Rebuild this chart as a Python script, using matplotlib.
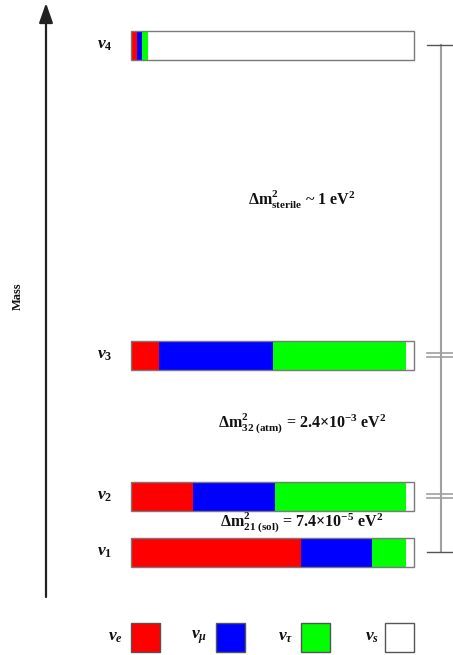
import matplotlib
matplotlib.use('Agg')
import matplotlib.pyplot as plt
import numpy as np

plt.rcParams['mathtext.fontset'] = 'custom'
plt.rcParams['mathtext.rm'] = 'Liberation Serif:bold'
plt.rcParams['mathtext.it'] = 'Liberation Serif:bold:italic'
plt.rcParams['mathtext.bf'] = 'Liberation Serif:bold'
plt.rcParams['font.family'] = ['Liberation Serif', 'DejaVu Serif']
plt.rcParams['font.weight'] = 'bold'

# ---- data ----
states = [r'$\nu_1$', r'$\nu_2$', r'$\nu_3$', r'$\nu_4$']
flavors = [r'$\nu_e$', r'$\nu_\mu$', r'$\nu_\tau$', r'$\nu_s$']
flavor_colors = ['#ff0000', '#0000ff', '#00ff00', '#ffffff']
frac_e = [0.60, 0.22, 0.10, 0.02]
frac_mu = [0.25, 0.29, 0.40, 0.02]
frac_tau = [0.12, 0.46, 0.47, 0.02]
frac_s = [0.03, 0.03, 0.03, 0.94]
splitting_labels = [
    r'$\Delta\mathrm{m}^2_{21\ \mathrm{(sol)}}$ = 7.4×10$^{-5}$ eV$^2$',
    r'$\Delta\mathrm{m}^2_{32\ \mathrm{(atm)}}$ = 2.4×10$^{-3}$ eV$^2$',
    r'$\Delta\mathrm{m}^2_{\mathrm{sterile}}$ ~ 1 eV$^2$',
]
axis_label = 'Mass'

# ---- layout (pixel based) ----
W, H = 453, 655
BAR_L, BAR_W = 131, 283
def px(x):
    return (x - BAR_L) / BAR_W

bar_y = [552, 496, 355, 45]
bar_h = 29
split_y = [522, 423, 200]

fig = plt.figure(figsize=(W / 100, H / 100), dpi=100)
ax = fig.add_axes([0, 0, 1, 1])
ax.set_xlim(px(0), px(W))
ax.set_ylim(H, 0)
ax.axis('off')

fracs = np.array([frac_e, frac_mu, frac_tau, frac_s])
left = np.zeros(len(states))
for k in range(4):
    ax.barh(bar_y, fracs[k], left=left, height=bar_h, color=flavor_colors[k],
            edgecolor='none', linewidth=0, zorder=2)
    left = left + fracs[k]
ax.barh(bar_y, left, height=bar_h, color='none', edgecolor='#7a7a7a',
        linewidth=1.0, zorder=3)

for lab, y in zip(states, bar_y):
    ax.text(px(105), y, lab, ha='center', va='center', fontsize=12.5, color='#111111')

for lab, y in zip(splitting_labels, split_y):
    ax.text(px(302), y, lab, ha='center', va='center', fontsize=11.5,
            fontweight='bold', color='#111111')

# right bracket
gray = '#a0a0a0'
ax.plot([px(441), px(441)], [bar_y[3], bar_y[0]], color=gray, lw=1.5, zorder=1)
for i, y in enumerate(bar_y):
    if i in (1, 2):
        for dy in (-1.6, 1.6):
            ax.plot([px(427), px(453)], [y + dy, y + dy], color=gray, lw=1.2)
    else:
        ax.plot([px(427), px(453)], [y, y], color='#555555', lw=1.0)

# mass arrow
ax.annotate('', xy=(px(46), 3), xytext=(px(46), 597),
            arrowprops=dict(arrowstyle='-|>,head_length=1.2,head_width=0.42',
                            color='#222222', lw=1.6, shrinkA=0, shrinkB=0))
ax.text(px(18), 296, axis_label, rotation=90, ha='center', va='center',
        fontsize=9, fontweight='bold', color='#111111')

# legend
leg_x = [131, 216, 301, 385]
leg_lab_x = [115, 199, 286, 372]
leg_y = 637
sq = 29
ax.bar([px(x) for x in leg_x], [sq] * 4, bottom=leg_y - sq / 2, width=sq / BAR_W,
       align='edge', color=flavor_colors, edgecolor='#555555', linewidth=1.0)
for lab, x in zip(flavors, leg_lab_x):
    ax.text(px(x), leg_y, lab, ha='center', va='center', fontsize=12.5, color='#111111')

fig.savefig('out.png', dpi=100)
